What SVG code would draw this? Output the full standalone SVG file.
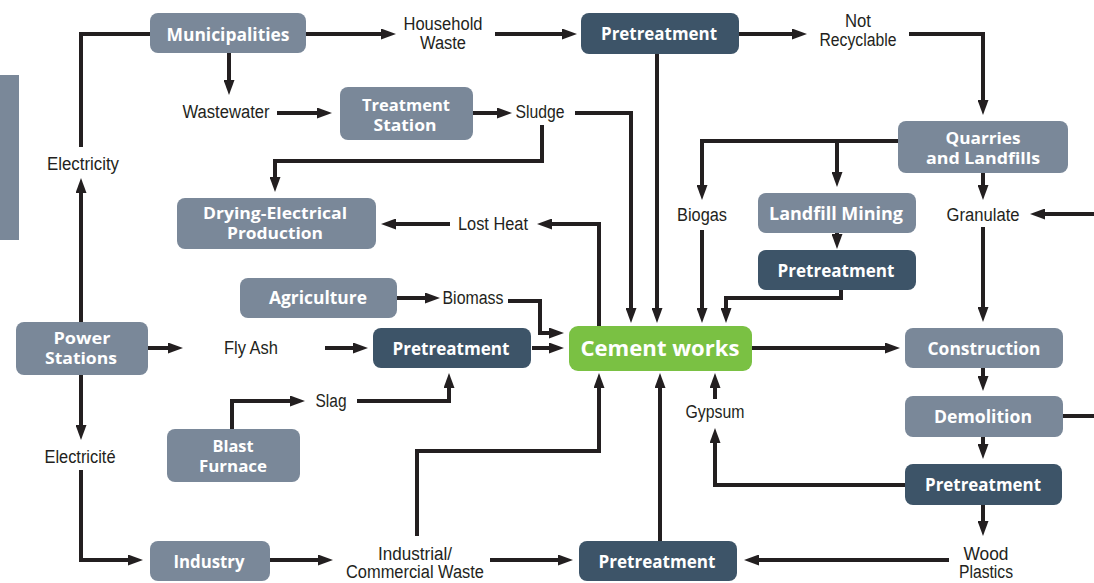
<svg xmlns="http://www.w3.org/2000/svg" width="1094" height="583" viewBox="0 0 1094 583">
<defs>
<marker id="ah" markerWidth="15" markerHeight="11" refX="2" refY="5.5" orient="auto" markerUnits="userSpaceOnUse"><path d="M0,0 L15,5.5 L0,11 z" fill="#231f20"/></marker>
<style>
.lt{fill:#7a8899}
.dk{fill:#3d5468}
.gr{fill:#7ac143}
.nt{font-family:"Open Sans","Liberation Sans",sans-serif;font-weight:bold;font-size:17px;fill:#ffffff;text-anchor:middle}
.n2{font-size:15.5px}
.lb{font-family:"Liberation Sans Narrow","Liberation Sans",sans-serif;font-size:18px;fill:#231f20;text-anchor:middle}
.c path{fill:none;stroke:#231f20;stroke-width:4;stroke-linejoin:miter}
.a{marker-end:url(#ah)}
</style>
</defs>
<rect width="1094" height="583" fill="#ffffff"/>
<rect x="0" y="75" width="19" height="165" fill="#7a8899"/>

<g class="c" id="connectors">
<path d="M81,147 V34 H150"/>
<path class="a" d="M81,322 V191"/>
<path class="a" d="M306,34 H383"/>
<path class="a" d="M495,34 H564"/>
<path class="a" d="M739,34 H794"/>
<path class="a" d="M909,34 H983 V102"/>
<path class="a" d="M229,53 V82"/>
<path class="a" d="M277,113 H319"/>
<path class="a" d="M473,113 H499"/>
<path class="a" d="M575,113 H631 V310"/>
<path class="a" d="M657,54 V310"/>
<path class="a" d="M542,125 V161 H275 V179"/>
<path class="a" d="M599,326 V224 H550"/>
<path class="a" d="M450,224 H394"/>
<path class="a" d="M898,141 H702 V187"/>
<path class="a" d="M837,141 V174"/>
<path class="a" d="M702,230 V310"/>
<path class="a" d="M837,233 V236"/>
<path class="a" d="M841,290 V298 H726 V310"/>
<path class="a" d="M983,173 V187"/>
<path class="a" d="M983,227 V309"/>
<path class="a" d="M1094,214 H1043"/>
<path class="a" d="M752,348 H887"/>
<path class="a" d="M983,368 V378"/>
<path d="M1063,416 H1094"/>
<path class="a" d="M983,437 V446"/>
<path class="a" d="M983,505 V523"/>
<path class="a" d="M949,560 H757"/>
<path class="a" d="M660,541 V386"/>
<path class="a" d="M905,485 H715 V441"/>
<path class="a" d="M715,399 V386"/>
<path class="a" d="M417,536 V451 H599 V386"/>
<path class="a" d="M490,560 H560"/>
<path class="a" d="M270,560 H320"/>
<path class="a" d="M81,375 V427"/>
<path class="a" d="M81,470 V560 H130"/>
<path class="a" d="M148,348 H170"/>
<path class="a" d="M325,348 H355"/>
<path class="a" d="M532,348 H551"/>
<path class="a" d="M397,298 H427"/>
<path class="a" d="M508,301 H540 V333 H551"/>
<path class="a" d="M232,429 V401 H292"/>
<path class="a" d="M357,401 H449 V386"/>
</g>

<g id="labels">
<text class="lb" x="443" y="30" textLength="79" lengthAdjust="spacingAndGlyphs">Household</text>
<text class="lb" x="443" y="49" textLength="46" lengthAdjust="spacingAndGlyphs">Waste</text>
<text class="lb" x="858" y="27" textLength="26" lengthAdjust="spacingAndGlyphs">Not</text>
<text class="lb" x="858" y="46" textLength="77" lengthAdjust="spacingAndGlyphs">Recyclable</text>
<text class="lb" x="226" y="118" textLength="87" lengthAdjust="spacingAndGlyphs">Wastewater</text>
<text class="lb" x="540" y="118" textLength="49" lengthAdjust="spacingAndGlyphs">Sludge</text>
<text class="lb" x="83" y="170" textLength="72" lengthAdjust="spacingAndGlyphs">Electricity</text>
<text class="lb" x="493" y="230" textLength="70" lengthAdjust="spacingAndGlyphs">Lost Heat</text>
<text class="lb" x="702" y="221" textLength="50" lengthAdjust="spacingAndGlyphs">Biogas</text>
<text class="lb" x="983" y="221" textLength="73" lengthAdjust="spacingAndGlyphs">Granulate</text>
<text class="lb" x="473" y="304" textLength="61" lengthAdjust="spacingAndGlyphs">Biomass</text>
<text class="lb" x="251" y="354" textLength="54" lengthAdjust="spacingAndGlyphs">Fly Ash</text>
<text class="lb" x="331" y="407" textLength="31" lengthAdjust="spacingAndGlyphs">Slag</text>
<text class="lb" x="80" y="463" textLength="71" lengthAdjust="spacingAndGlyphs">Electricité</text>
<text class="lb" x="715" y="418" textLength="59" lengthAdjust="spacingAndGlyphs">Gypsum</text>
<text class="lb" x="415" y="560" textLength="74" lengthAdjust="spacingAndGlyphs">Industrial/</text>
<text class="lb" x="415" y="578" textLength="138" lengthAdjust="spacingAndGlyphs">Commercial Waste</text>
<text class="lb" x="986" y="560" textLength="45" lengthAdjust="spacingAndGlyphs">Wood</text>
<text class="lb" x="986" y="578" textLength="54" lengthAdjust="spacingAndGlyphs">Plastics</text>
</g>

<g id="municipalities"><rect class="lt" x="150" y="13" width="156" height="40" rx="8"/><text class="nt" x="228" y="41" textLength="123" lengthAdjust="spacingAndGlyphs">Municipalities</text></g>
<g id="pretreatment-top"><rect class="dk" x="581" y="13" width="158" height="41" rx="8"/><text class="nt" x="659" y="40" textLength="116" lengthAdjust="spacingAndGlyphs">Pretreatment</text></g>
<g id="treatment-station"><rect class="lt" x="340" y="87" width="133" height="53" rx="8"/><text class="nt n2" x="406" y="111" textLength="88" lengthAdjust="spacingAndGlyphs">Treatment</text><text class="nt n2" x="405" y="131" textLength="63" lengthAdjust="spacingAndGlyphs">Station</text></g>
<g id="quarries"><rect class="lt" x="898" y="121" width="170" height="52" rx="8"/><text class="nt n2" x="983" y="144" textLength="75" lengthAdjust="spacingAndGlyphs">Quarries</text><text class="nt n2" x="983" y="164" textLength="114" lengthAdjust="spacingAndGlyphs">and Landfills</text></g>
<g id="drying"><rect class="lt" x="177" y="198" width="199" height="51" rx="8"/><text class="nt n2" x="275" y="219" textLength="144" lengthAdjust="spacingAndGlyphs">Drying-Electrical</text><text class="nt n2" x="275" y="239" textLength="96" lengthAdjust="spacingAndGlyphs">Production</text></g>
<g id="landfill-mining"><rect class="lt" x="758" y="193" width="158" height="40" rx="8"/><text class="nt" x="836" y="220" textLength="134" lengthAdjust="spacingAndGlyphs">Landfill Mining</text></g>
<g id="pretreatment-landfill"><rect class="dk" x="758" y="250" width="158" height="40" rx="8"/><text class="nt" x="836" y="277" textLength="117" lengthAdjust="spacingAndGlyphs">Pretreatment</text></g>
<g id="agriculture"><rect class="lt" x="240" y="278" width="157" height="40" rx="8"/><text class="nt" x="318" y="304" textLength="98" lengthAdjust="spacingAndGlyphs">Agriculture</text></g>
<g id="power-stations"><rect class="lt" x="16" y="322" width="132" height="53" rx="8"/><text class="nt n2" x="82" y="344" textLength="57" lengthAdjust="spacingAndGlyphs">Power</text><text class="nt n2" x="81" y="364" textLength="72" lengthAdjust="spacingAndGlyphs">Stations</text></g>
<g id="pretreatment-mid"><rect class="dk" x="373" y="328" width="158" height="40" rx="8"/><text class="nt" x="451" y="355" textLength="117" lengthAdjust="spacingAndGlyphs">Pretreatment</text></g>
<g id="cement-works"><rect class="gr" x="569" y="326" width="183" height="45" rx="9"/><text class="nt" x="660" y="356" style="font-size:22px" textLength="159" lengthAdjust="spacingAndGlyphs">Cement works</text></g>
<g id="construction"><rect class="lt" x="905" y="328" width="158" height="40" rx="8"/><text class="nt" x="984" y="355" textLength="113" lengthAdjust="spacingAndGlyphs">Construction</text></g>
<g id="demolition"><rect class="lt" x="905" y="396" width="158" height="41" rx="8"/><text class="nt" x="983" y="423" textLength="98" lengthAdjust="spacingAndGlyphs">Demolition</text></g>
<g id="pretreatment-br"><rect class="dk" x="905" y="464" width="157" height="41" rx="8"/><text class="nt" x="983" y="491" textLength="116" lengthAdjust="spacingAndGlyphs">Pretreatment</text></g>
<g id="blast-furnace"><rect class="lt" x="167" y="429" width="133" height="53" rx="8"/><text class="nt n2" x="233" y="452" textLength="41" lengthAdjust="spacingAndGlyphs">Blast</text><text class="nt n2" x="233" y="472" textLength="68" lengthAdjust="spacingAndGlyphs">Furnace</text></g>
<g id="industry"><rect class="lt" x="150" y="541" width="120" height="40" rx="8"/><text class="nt" x="209" y="568" textLength="71" lengthAdjust="spacingAndGlyphs">Industry</text></g>
<g id="pretreatment-bottom"><rect class="dk" x="579" y="541" width="158" height="40" rx="8"/><text class="nt" x="657" y="568" textLength="117" lengthAdjust="spacingAndGlyphs">Pretreatment</text></g>
</svg>
